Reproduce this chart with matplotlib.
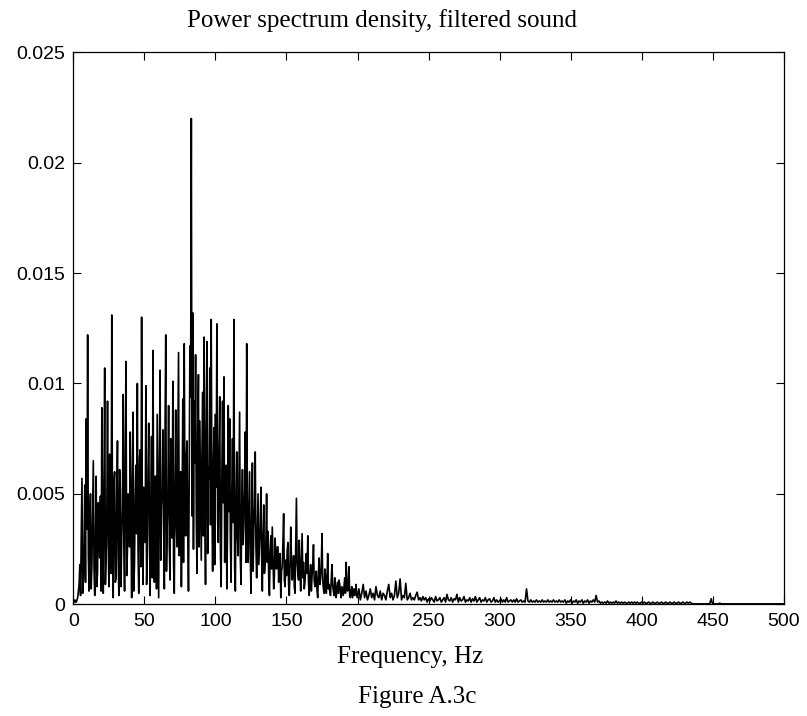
import numpy as np
import matplotlib
matplotlib.use('Agg')
import matplotlib.pyplot as plt

# power spectrum density, values in units of 1e-3
# whole-Hz bins 0..500
psd_0_99 = [
    0.1, 0.2, 0.1, 0.3, 0.9, 0.4, 5.7, 1.2, 5.4, 8.4,
    12.2, 0.6, 5.0, 1.8, 6.5, 0.4, 5.8, 1.5, 3.2, 4.9,
    8.9, 0.5, 10.7, 2.1, 9.2, 0.8, 4.5, 13.1, 0.3, 6.0,
    1.2, 7.4, 0.4, 5.2, 3.0, 9.5, 0.6, 11.0, 2.4, 4.6,
    7.8, 0.3, 8.7, 1.9, 6.3, 10.0, 0.5, 7.0, 13.0, 0.9,
    4.2, 9.9, 2.2, 8.2, 0.4, 7.6, 11.5, 1.0, 5.8, 8.6,
    0.3, 10.6, 4.4, 7.9, 0.7, 12.2, 3.5, 9.0, 1.1, 6.4,
    10.1, 0.5, 8.8, 2.6, 11.4, 4.8, 0.8, 9.3, 11.8, 3.1,
    7.4, 0.6, 11.7, 22.0, 13.2, 9.2, 11.3, 1.4, 10.4, 8.3,
    2.0, 9.6, 12.1, 0.9, 11.9, 6.2, 10.7, 12.9, 1.5, 8.0,
]
psd_100_199 = [
    8.6, 12.7, 2.8, 9.4, 0.8, 9.2, 10.3, 5.5, 0.7, 9.0,
    8.4, 1.0, 7.5, 12.9, 0.6, 6.9, 2.2, 8.7, 0.9, 6.1,
    3.6, 7.8, 11.8, 1.9, 6.0, 0.5, 6.4, 3.4, 6.9, 1.2,
    5.0, 2.6, 5.3, 0.6, 4.5, 2.0, 5.0, 3.3, 0.4, 3.1,
    3.5, 0.7, 3.0, 1.6, 2.6, 2.1, 0.3, 1.7, 4.1, 0.8,
    1.3, 2.8, 0.4, 3.5, 1.1, 2.2, 0.5, 4.8, 1.4, 2.9,
    0.6, 3.2, 1.9, 1.0, 2.3, 3.1, 0.4, 1.8, 1.3, 2.7,
    0.8, 1.5, 0.3, 2.1, 1.2, 3.2, 0.7, 1.6, 0.5, 2.3,
    0.9, 0.4, 1.8, 0.6, 1.2, 0.3, 1.0, 1.1, 0.5, 0.8,
    0.4, 1.2, 1.9, 0.6, 1.7, 0.3, 0.8, 0.5, 0.4, 0.9,
]
# half-Hz bins 0.5..199.5
psd_half_0_99 = [
    0.1, 0.1, 0.2, 0.6, 1.8, 3.1, 0.5, 2.6, 1.0, 3.4,
    2.2, 3.9, 0.7, 4.3, 1.6, 2.9, 0.8, 4.6, 2.1, 0.6,
    3.8, 5.1, 0.9, 4.0, 2.7, 6.8, 1.4, 3.3, 5.5, 1.0,
    4.9, 2.1, 6.1, 0.8, 4.4, 2.9, 7.2, 1.3, 5.0, 2.6,
    3.7, 5.9, 0.6, 4.8, 3.2, 2.4, 6.6, 1.7, 4.1, 5.3,
    2.8, 0.9, 6.0, 3.5, 4.7, 1.2, 3.9, 5.8, 0.7, 4.2,
    6.3, 2.0, 5.1, 3.6, 8.0, 1.5, 4.9, 2.7, 7.5, 3.0,
    1.8, 5.6, 3.4, 7.1, 2.2, 6.0, 4.3, 1.9, 5.2, 6.7,
    3.3, 5.5, 9.4, 4.0, 2.5, 6.4, 3.8, 7.8, 2.6, 5.0,
    6.9, 3.1, 4.5, 8.1, 2.3, 5.7, 3.6, 4.9, 6.2, 1.8,
]
psd_half_100_199 = [
    5.3, 3.9, 7.0, 2.4, 5.8, 4.6, 1.9, 6.3, 3.5, 4.2,
    2.9, 5.1, 3.7, 1.6, 4.8, 3.0, 5.4, 2.1, 4.4, 2.7,
    5.2, 1.9, 3.6, 4.1, 2.3, 3.8, 1.5, 4.4, 2.6, 3.2,
    1.8, 3.5, 2.2, 3.0, 1.4, 2.8, 1.9, 1.2, 2.5, 1.6,
    2.2, 1.3, 1.9, 2.6, 1.0, 2.3, 1.5, 2.8, 1.1, 2.0,
    2.4, 0.9, 1.8, 2.1, 1.5, 0.8, 2.6, 1.9, 1.1, 1.5,
    1.9, 1.2, 0.7, 1.6, 1.4, 1.0, 1.3, 0.6, 1.7, 1.1,
    1.2, 0.6, 1.4, 0.9, 1.7, 1.1, 0.5, 1.3, 0.9, 0.7,
    0.6, 1.1, 0.9, 0.4, 0.8, 0.7, 0.5, 0.9, 0.3, 0.6,
    0.8, 0.5, 0.9, 1.0, 0.4, 0.6, 0.3, 0.7, 0.5, 0.4,
]
psd_200_299 = [
    0.3, 0.7, 0.2, 0.5, 0.9, 0.3, 0.6, 0.2, 0.4, 0.7,
    0.3, 0.5, 0.2, 0.8, 0.4, 0.3, 0.6, 0.2, 0.5, 0.4,
    0.2, 0.6, 0.9, 0.3, 0.5, 0.2, 0.4, 1.05, 0.3, 0.5,
    1.15, 0.2, 0.4, 0.3, 0.95, 0.2, 0.3, 0.5, 0.2, 0.3,
    0.2, 0.4, 0.55, 0.2, 0.3, 0.15, 0.35, 0.2, 0.3, 0.1,
    0.25, 0.15, 0.3, 0.2, 0.1, 0.35, 0.15, 0.2, 0.3, 0.1,
    0.2, 0.3, 0.1, 0.45, 0.2, 0.15, 0.3, 0.1, 0.25, 0.2,
    0.45, 0.1, 0.3, 0.15, 0.2, 0.35, 0.1, 0.2, 0.15, 0.3,
    0.1, 0.25, 0.15, 0.35, 0.1, 0.2, 0.3, 0.1, 0.2, 0.15,
    0.3, 0.1, 0.2, 0.25, 0.1, 0.15, 0.3, 0.1, 0.2, 0.1,
]
psd_300_399 = [
    0.15, 0.25, 0.1, 0.2, 0.1, 0.3, 0.1, 0.15, 0.2, 0.1,
    0.2, 0.1, 0.25, 0.1, 0.15, 0.2, 0.1, 0.15, 0.1, 0.7,
    0.15, 0.1, 0.2, 0.1, 0.15, 0.1, 0.2, 0.1, 0.15, 0.1,
    0.2, 0.1, 0.15, 0.1, 0.2, 0.1, 0.15, 0.1, 0.2, 0.1,
    0.15, 0.1, 0.2, 0.1, 0.15, 0.1, 0.2, 0.05, 0.15, 0.1,
    0.2, 0.05, 0.15, 0.1, 0.2, 0.05, 0.15, 0.1, 0.2, 0.05,
    0.15, 0.1, 0.2, 0.05, 0.15, 0.1, 0.2, 0.1, 0.4, 0.1,
    0.15, 0.05, 0.1, 0.05, 0.1, 0.05, 0.15, 0.05, 0.1, 0.05,
    0.1, 0.05, 0.15, 0.05, 0.1, 0.05, 0.1, 0.05, 0.1, 0.05,
    0.05, 0.1, 0.05, 0.1, 0.05, 0.1, 0.05, 0.1, 0.05, 0.05,
]
psd_400_500 = [
    0.1, 0.05, 0.1, 0.05, 0.05, 0.1, 0.05, 0.05, 0.1, 0.05,
    0.05, 0.1, 0.05, 0.05, 0.1, 0.05, 0.05, 0.1, 0.05, 0.05,
    0.1, 0.05, 0.05, 0.1, 0.05, 0.05, 0.1, 0.05, 0.05, 0.1,
    0.05, 0.05, 0.1, 0.05, 0.1, 0.05, 0.02, 0.02, 0.02, 0.02,
    0.02, 0.02, 0.02, 0.02, 0.02, 0.02, 0.02, 0.02, 0.02, 0.25,
    0.02, 0.02, 0.02, 0.02, 0.02, 0.05, 0.02, 0.02, 0.02, 0.02,
    0.02, 0.02, 0.02, 0.02, 0.02, 0.02, 0.02, 0.02, 0.02, 0.02,
    0.02, 0.02, 0.02, 0.02, 0.02, 0.02, 0.02, 0.02, 0.02, 0.02,
    0.02, 0.02, 0.02, 0.02, 0.02, 0.02, 0.02, 0.02, 0.02, 0.02,
    0.02, 0.02, 0.02, 0.02, 0.02, 0.02, 0.02, 0.02, 0.02, 0.02,
    0.02,
]

# interleave whole and half bins below 200 Hz
whole_low = np.array(psd_0_99 + psd_100_199)
half_low = np.array(psd_half_0_99 + psd_half_100_199)
low = np.empty(2 * len(whole_low))
low[0::2] = whole_low
low[1::2] = half_low
high = np.array(psd_200_299 + psd_300_399 + psd_400_500)

psd = np.concatenate([low, high]) * 1e-3
freq = np.concatenate([np.arange(0, 200, 0.5), np.arange(200, 501, 1.0)])

x_ticks = [0, 50, 100, 150, 200, 250, 300, 350, 400, 450, 500]
y_ticks = [0, 0.005, 0.01, 0.015, 0.02, 0.025]
y_labels = ['0', '0.005', '0.01', '0.015', '0.02', '0.025']

serif = 'Liberation Serif'
sans = 'Liberation Sans'

fig = plt.figure(figsize=(8.07, 7.16), dpi=100)
ax = fig.add_axes([0.091, 0.156, 0.880, 0.771])
ax.plot(freq, psd, color='black', linewidth=1.2)

ax.set_xlim(0, 500)
ax.set_ylim(0, 0.025)
ax.set_xticks(x_ticks)
ax.set_yticks(y_ticks)
ax.set_yticklabels(y_labels)
ax.tick_params(direction='in', top=True, right=True, length=5.5, width=0.8,
               labelsize=14, pad=6)
for lab in ax.get_xticklabels() + ax.get_yticklabels():
    lab.set_family(sans)
for s in ax.spines.values():
    s.set_linewidth(0.9)

# title, axis label and caption placed as in the source figure
fig.text(0.473, 1 - 21 / 716, 'Power spectrum density, filtered sound',
         ha='center', va='center', fontsize=18, family=serif)
fig.text(0.508, 1 - 657 / 716, 'Frequency, Hz',
         ha='center', va='center', fontsize=18, family=serif)
fig.text(0.517, 1 - 697 / 716, 'Figure A.3c',
         ha='center', va='center', fontsize=18, family=serif)

fig.savefig('out.png', dpi=100)
